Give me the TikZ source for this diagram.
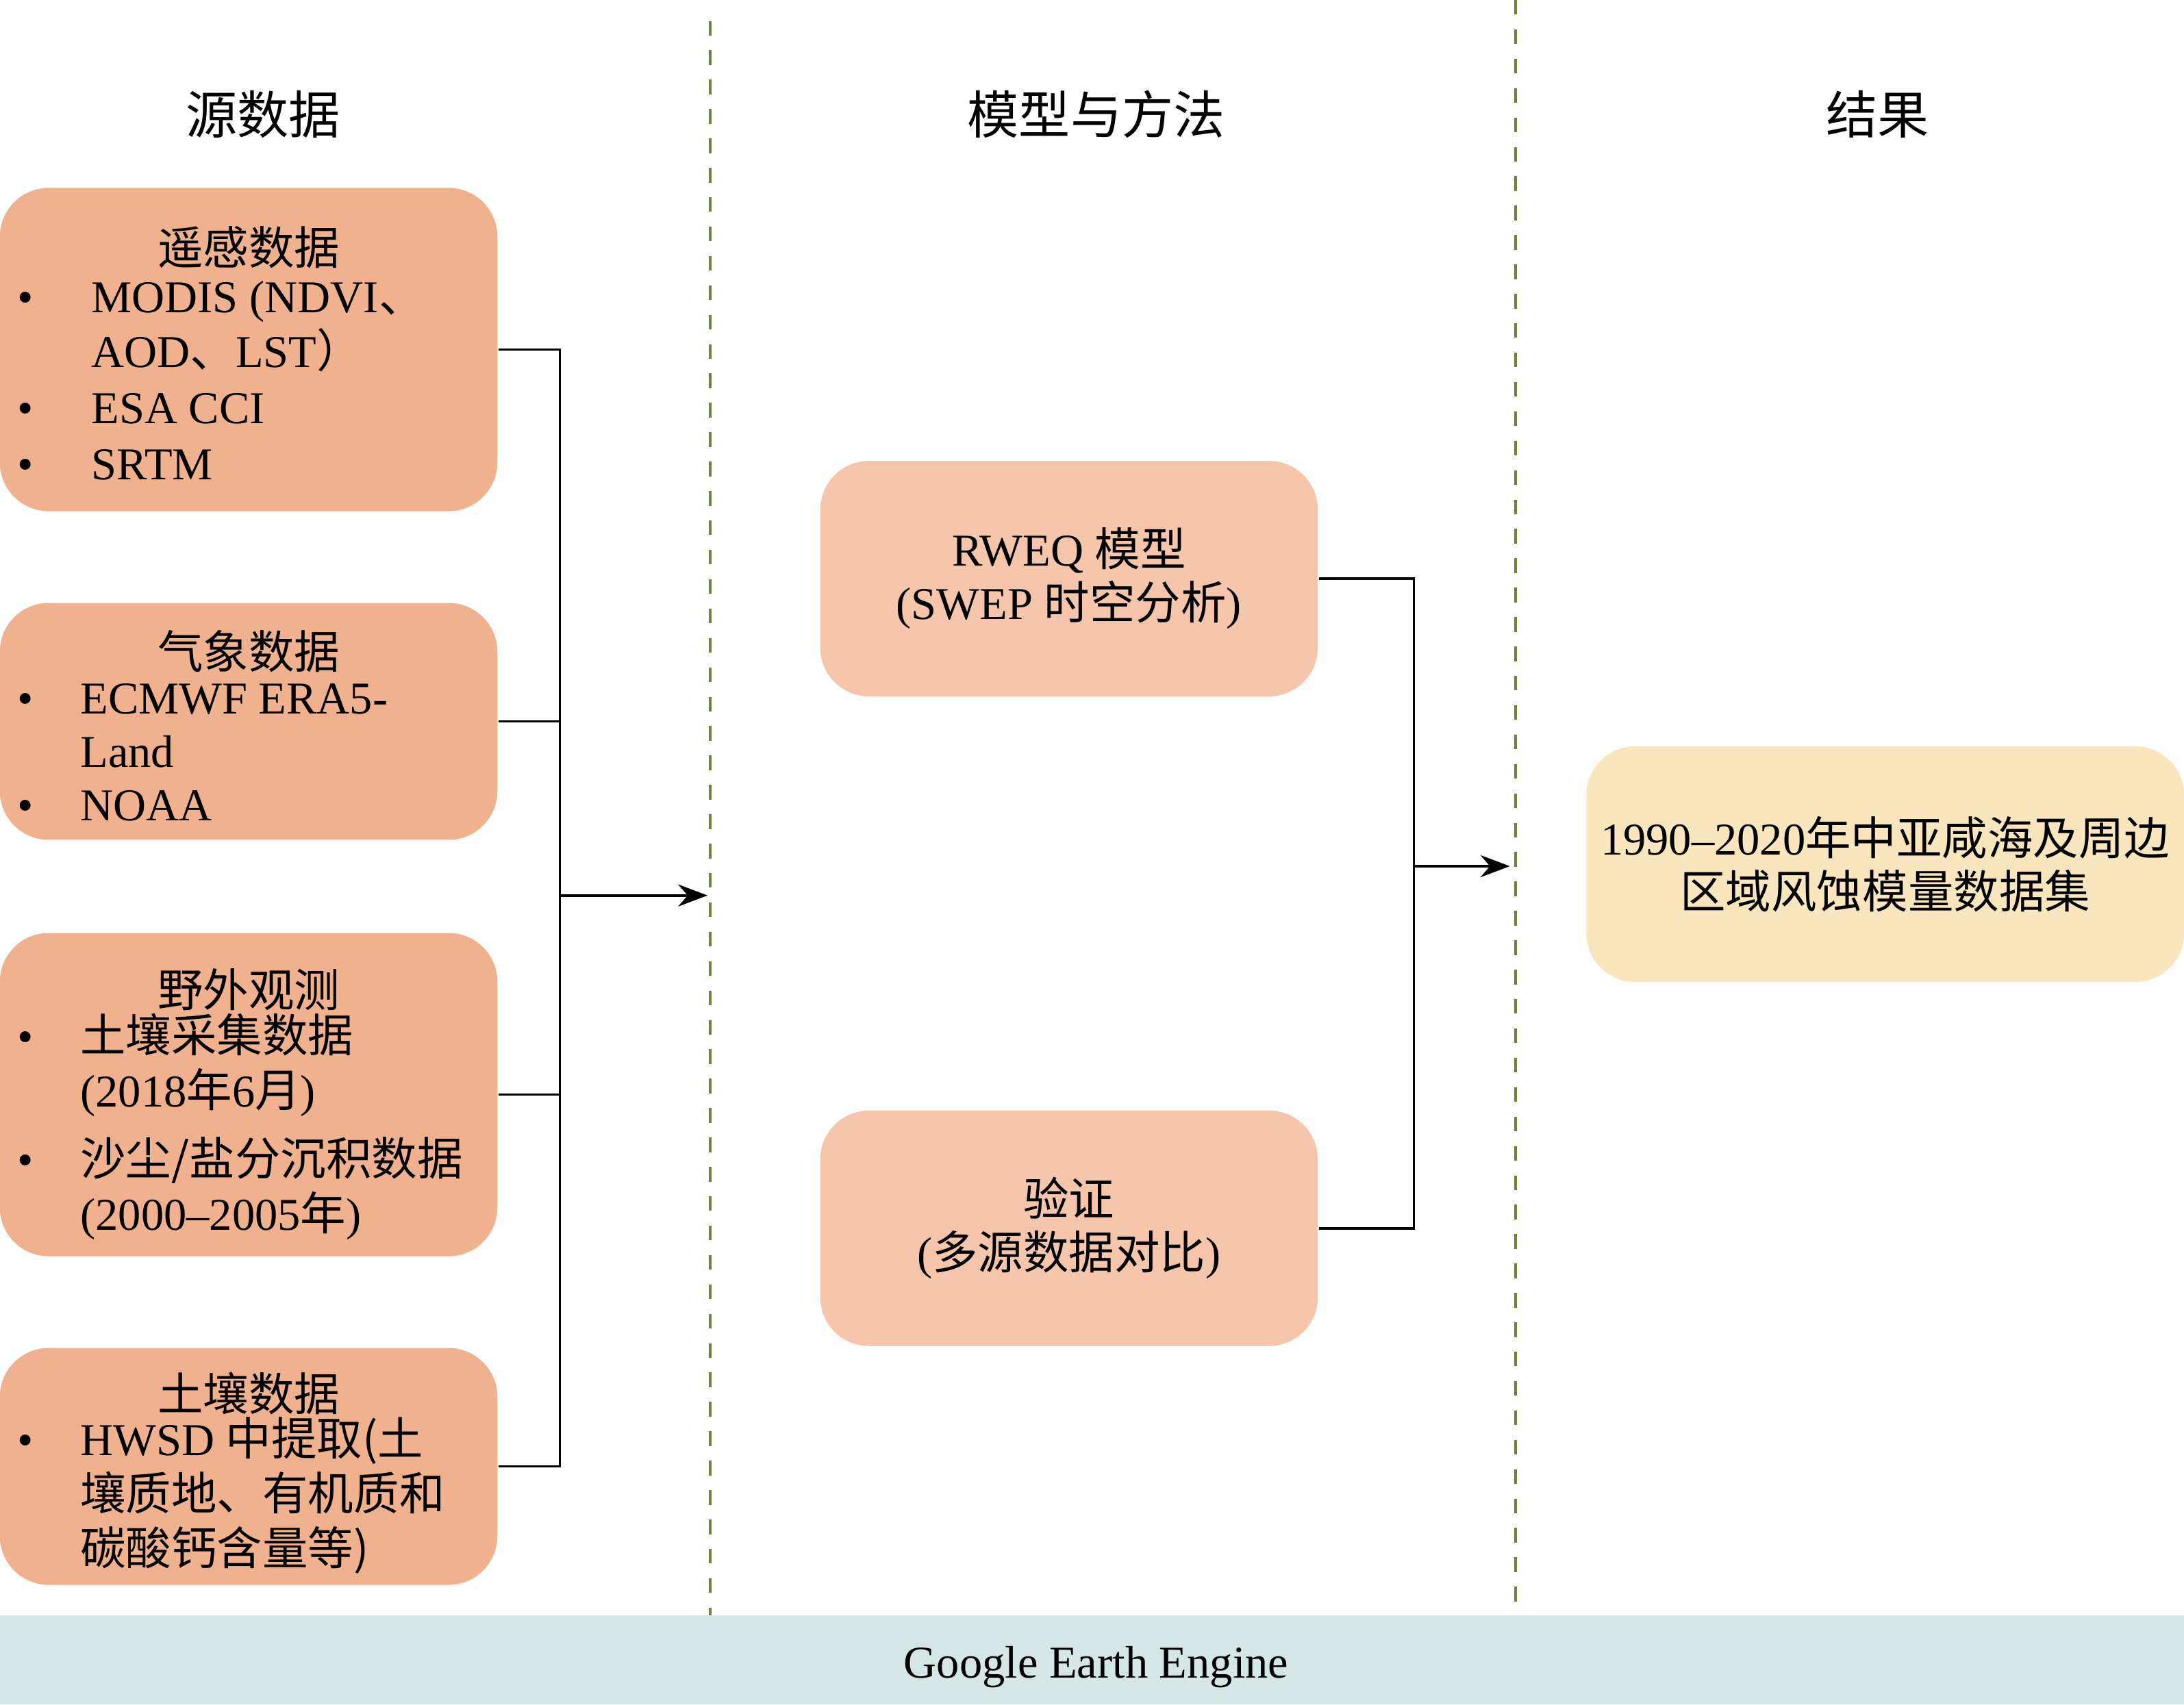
\documentclass[tikz,border=0pt]{standalone}
\usepackage{fontspec}
\setmainfont{Liberation Serif}
\newfontfamily\cjk{Noto Sans CJK SC}
\newcommand\zh[1]{{\cjk #1}}
\usetikzlibrary{arrows.meta,positioning}
\definecolor{srcfill}{RGB}{240,178,142}
\definecolor{modfill}{RGB}{246,198,172}
\definecolor{resfill}{RGB}{250,230,190}
\definecolor{barfill}{RGB}{213,230,230}
\definecolor{sepline}{RGB}{110,130,60}
\tikzset{
  box/.style={draw=none, rounded corners=0.35cm, minimum width=3.57cm, inner sep=0pt, align=center},
  srcbox/.style={box, fill=srcfill, minimum height=2.32cm},
  srcboxs/.style={box, fill=srcfill, minimum height=1.70cm},
  modbox/.style={box, fill=modfill, minimum height=1.69cm},
  link/.style={draw=black, line width=0.5pt},
  head/.style={font=\fontsize{10.5}{12}\selectfont}
}
\newcommand\itemtab[1]{\begin{tabular}{@{}p{0.45cm}@{}l@{}}#1\end{tabular}}
\begin{document}
\begin{tikzpicture}[x=0.01cm,y=-0.01cm, font=\fontsize{9.3}{10.9}\selectfont]
\useasboundingbox (0,0) rectangle (1568,1224);
% columns
\fill[barfill] (0,1160) rectangle (1568,1224);
\node (gee) at (787,1197) {Google Earth Engine};
\draw[sepline, dashed, line width=0.5pt] (510,15) -- (510,1160);
\draw[sepline, dashed, line width=0.5pt] (1088,0) -- (1088,1160);
\node[head] (h1) at (189,82) {\zh{源数据}};
\node[head] (h2) at (787,82) {\zh{模型与方法}};
\node[head] (h3) at (1348,82) {\zh{结果}};
%% source boxes
\node[srcbox] (rs) at (178.5,251) {};
\node[anchor=north] at (178.5,150) {\zh{遥感数据}};
\node[anchor=north west, inner sep=0pt, align=left] at (12,197) {\itemtab{
  \textbullet & \hspace{0.08cm}MODIS (NDVI\zh{、}\\ & \hspace{0.08cm}AOD\zh{、}LST\zh{）}\\[0.5pt]
  \textbullet & \hspace{0.08cm}ESA CCI\\[0.5pt] \textbullet & \hspace{0.08cm}SRTM}};
\node[srcboxs] (met) at (178.5,518) {};
\node[anchor=north] at (178.5,440) {\zh{气象数据}};
\node[anchor=north west, inner sep=0pt, align=left] at (12,485) {\itemtab{
  \textbullet & ECMWF ERA5-\\ & Land\\ \textbullet & NOAA}};
\node[srcbox] (fld) at (178.5,786) {};
\node[anchor=north] at (178.5,683) {\zh{野外观测}};
\node[anchor=north west, inner sep=0pt, align=left] at (12,727) {\itemtab{
  \textbullet & \zh{土壤采集数据}\\ & (2018\zh{年}6\zh{月})\\[3pt]
  \textbullet & \zh{沙尘/盐分沉积数据}\\ & (2000--2005\zh{年})}};
\node[srcboxs] (soil) at (178.5,1053) {};
\node[anchor=north] at (178.5,973) {\zh{土壤数据}};
\node[anchor=north west, inner sep=0pt, align=left] at (12,1017) {\itemtab{
  \textbullet & HWSD \zh{中提取(土}\\ & \zh{壤质地、有机质和}\\ & \zh{碳酸钙含量等)}}};
%% model boxes
\node[modbox] (rweq) at (767.5,415.5) {RWEQ \zh{模型}\\(SWEP \zh{时空分析})};
\node[modbox] (val) at (767.5,882) {\zh{验证}\\(\zh{多源数据对比})};
\node[box, fill=resfill, minimum width=4.29cm, minimum height=1.69cm] (res) at (1353.5,620.5)
  {1990--2020\zh{年中亚咸海及周边}\\\zh{区域风蚀模量数据集}};
%% connectors
\coordinate (bus) at (402,643);
\coordinate (in1) at (508,643);
\foreach \n in {rs,met,fld,soil}
  \draw[link] (\n.east) -| (bus);
\draw[link,-{Stealth[length=6pt]}] (bus) -- (in1);
\coordinate (bus2) at (1015,622);
\coordinate (in2) at (1084,622);
\foreach \n in {rweq,val}
  \draw[link] (\n.east) -| (bus2);
\draw[link,-{Stealth[length=6pt]}] (bus2) -- (in2);
\end{tikzpicture}
\end{document}
